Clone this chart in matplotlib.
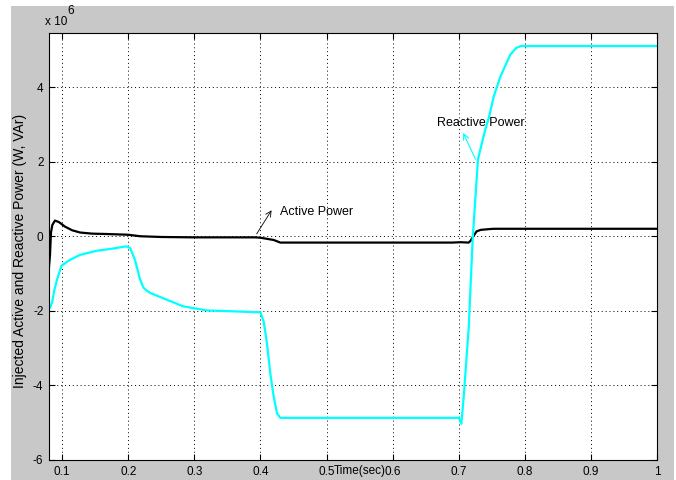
import matplotlib
matplotlib.use('Agg')
import matplotlib.pyplot as plt
from matplotlib.patches import Rectangle

# data (powers in units of 1e6)
t_active = [0.08, 0.0815, 0.083, 0.085, 0.089, 0.095, 0.104, 0.115, 0.127, 0.145,
            0.167, 0.2, 0.218, 0.25, 0.3, 0.35, 0.392, 0.40, 0.41, 0.42, 0.43,
            0.5, 0.6, 0.69, 0.703, 0.715, 0.718, 0.722, 0.727, 0.733, 0.745,
            0.753, 0.8, 0.9, 1.0]
p_active = [-0.82, -0.5, 0.1, 0.3, 0.42, 0.38, 0.26, 0.16, 0.1, 0.07,
            0.06, 0.04, 0.0, -0.02, -0.03, -0.03, -0.03, -0.04, -0.07, -0.1, -0.17,
            -0.17, -0.17, -0.17, -0.16, -0.17, -0.12, 0.0, 0.13, 0.17, 0.19,
            0.2, 0.2, 0.2, 0.2]

t_reactive = [0.08, 0.0815, 0.085, 0.088, 0.092, 0.099, 0.112, 0.127, 0.152, 0.177,
              0.197, 0.203, 0.21, 0.218, 0.223, 0.228, 0.233, 0.258, 0.283, 0.319,
              0.369, 0.40, 0.405, 0.41, 0.415, 0.42, 0.425, 0.43, 0.5, 0.6,
              0.70, 0.704, 0.708, 0.712, 0.715, 0.721, 0.727, 0.729, 0.733, 0.74,
              0.746, 0.753, 0.763, 0.778, 0.787, 0.794, 0.9, 1.0]
q_reactive = [-1.95, -1.92, -1.75, -1.45, -1.17, -0.79, -0.63, -0.5, -0.39, -0.33,
              -0.27, -0.32, -0.63, -1.17, -1.38, -1.46, -1.52, -1.7, -1.88, -1.99,
              -2.02, -2.04, -2.3, -2.9, -3.7, -4.3, -4.75, -4.87, -4.87, -4.87,
              -4.87, -5.03, -4.2, -3.2, -2.5, -0.1, 1.5, 2.05, 2.35, 2.85,
              3.21, 3.75, 4.28, 4.87, 5.05, 5.1, 5.1, 5.1]

x_ticks = [0.1, 0.2, 0.3, 0.4, 0.5, 0.6, 0.7, 0.8, 0.9, 1.0]
x_labels = ['0.1', '0.2', '0.3', '0.4', '0.5', '0.6', '0.7', '0.8', '0.9', '1']
y_ticks = [-6, -4, -2, 0, 2, 4]

plt.rcParams['font.family'] = ['Liberation Sans', 'DejaVu Sans']

fig = plt.figure(figsize=(6.76, 4.8), dpi=100, facecolor='white')
# matlab grey frame behind the axes
frame = Rectangle((11 / 676, 0), 663 / 676, 474 / 480,
                  transform=fig.transFigure, facecolor='#c8c8c8',
                  edgecolor='none', zorder=-10)
fig.add_artist(frame)

ax = fig.add_axes([49 / 676, 20 / 480, 608 / 676, 427 / 480])
ax.set_facecolor('white')

scale = 1e6
ax.plot(t_active, [v * scale for v in p_active], color='black', lw=1.6)
ax.plot(t_reactive, [v * scale for v in q_reactive], color='#00ffff', lw=1.6)

ax.set_xlim(0.08, 1.0)
ax.set_ylim(-6e6, 5.45e6)
ax.set_xticks(x_ticks)
ax.set_xticklabels(x_labels)
ax.set_yticks([v * scale for v in y_ticks])
ax.set_yticklabels([str(v) for v in y_ticks])
ax.tick_params(direction='in', top=True, right=True, labelsize=8.5, length=4, pad=4)
ax.grid(True, color='black', linestyle=(0, (1, 3)), lw=0.7)
for s in ax.spines.values():
    s.set_linewidth(0.8)

ax.set_ylabel('Injected Active and Reactive Power (W, VAr)', fontsize=10)
ax.yaxis.set_label_coords(-0.036, 0.49)
fig.text(360 / 676, 1 - 471 / 480, 'Time(sec)', fontsize=8.5, ha='center', va='center')
fig.text(45 / 676, 1 - 22 / 480, 'x 10', fontsize=8.5, ha='left', va='center')
fig.text(67 / 676, 1 - 11 / 480, '6', fontsize=8.5, ha='left', va='center')

# annotations
ax.annotate('', xy=(0.419, 0.76e6), xytext=(0.392, 0.0),
            arrowprops=dict(arrowstyle='->', color='black', lw=0.6))
ax.text(0.43, 0.64e6, 'Active Power', fontsize=9, ha='left', va='center')
ax.annotate('', xy=(0.705, 2.84e6), xytext=(0.727, 2.0e6),
            arrowprops=dict(arrowstyle='->', color='#00ffff', lw=0.8))
ax.text(0.667, 3.03e6, 'Reactive Power', fontsize=9, ha='left', va='center')

fig.savefig('out.png', dpi=100, facecolor='white')
